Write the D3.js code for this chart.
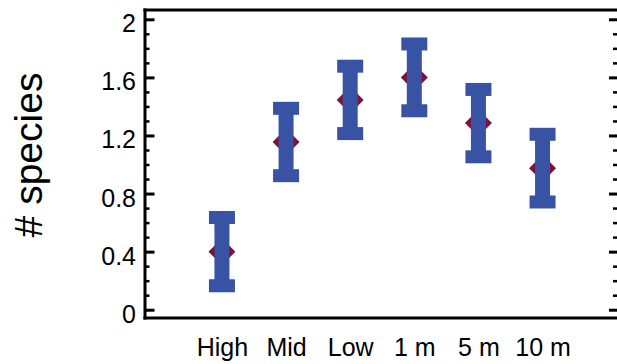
<!DOCTYPE html>
<html>
<head>
<meta charset="utf-8">
<script src="https://cdn.jsdelivr.net/npm/d3@7"></script>
<style>
  html, body { margin: 0; padding: 0; background: #fff; }
  svg { display: block; font-family: Arial, "Liberation Sans", sans-serif; }
</style>
</head>
<body>
<svg id="chart" width="617" height="364"></svg>
<script>
const categories = ["High", "Mid", "Low", "1 m", "5 m", "10 m"];
const means = [0.40, 1.155, 1.445, 1.60, 1.285, 0.975];
const errors = [0.235, 0.232, 0.232, 0.23, 0.232, 0.233];
const yMajorTicks = [0, 0.4, 0.8, 1.2, 1.6, 2];
const yTickLabels = ["0", "0.4", "0.8", "1.2", "1.6", "2"];
const yMinorTicks = [0.1,0.2,0.3,0.5,0.6,0.7,0.9,1.0,1.1,1.3,1.4,1.5,1.7,1.8,1.9];

(function () {
const svg = d3.select("#chart");
const pLeft = 145, pRight = 619.5, pTop = 10, pBottom = 318;

const x = d3.scalePoint().domain(categories).range([pLeft, pRight]).padding(1.2);
const y = d3.scaleLinear().domain([-0.057, 2.064]).range([pBottom, pTop]);

const blue = "#3953A4", maroon = "#7B1240";

// Left axis: major (with labels)
const gL = svg.append("g").attr("transform", `translate(${pLeft},0)`)
  .call(d3.axisLeft(y).tickValues(yMajorTicks).tickSize(-9.5).tickPadding(9)
    .tickFormat((d, i) => yTickLabels[i]));
gL.select(".domain").remove();
gL.selectAll(".tick line").attr("stroke", "#000").attr("stroke-width", 3);
gL.selectAll(".tick text").attr("font-size", 25).attr("dy", "0.5em")
  .attr("fill", "#000").attr("font-family", "Arial, 'Liberation Sans', sans-serif");

const gLm = svg.append("g").attr("transform", `translate(${pLeft},0)`)
  .call(d3.axisLeft(y).tickValues(yMinorTicks).tickSize(-4.5).tickFormat(""));
gLm.select(".domain").remove();
gLm.selectAll(".tick line").attr("stroke", "#000").attr("stroke-width", 2.5);

// Right axis: ticks pointing inward
const gR = svg.append("g").attr("transform", `translate(${pRight},0)`)
  .call(d3.axisRight(y).tickValues(yMajorTicks).tickSize(-10.5).tickFormat(""));
gR.select(".domain").remove();
gR.selectAll(".tick line").attr("stroke", "#000").attr("stroke-width", 3);
const gRm = svg.append("g").attr("transform", `translate(${pRight},0)`)
  .call(d3.axisRight(y).tickValues(yMinorTicks).tickSize(-6.5).tickFormat(""));
gRm.select(".domain").remove();
gRm.selectAll(".tick line").attr("stroke", "#000").attr("stroke-width", 2.5);

// Bottom axis labels
const gB = svg.append("g").attr("transform", `translate(0,${pBottom})`)
  .call(d3.axisBottom(x).tickSize(0).tickPadding(20));
gB.select(".domain").remove();
gB.selectAll(".tick text").attr("font-size", 25).attr("fill", "#000")
  .attr("font-family", "Arial, 'Liberation Sans', sans-serif");

// Frame
const frame = svg.append("g").attr("stroke", "#000").attr("stroke-width", 3).attr("fill", "none");
frame.append("line").attr("x1", pLeft).attr("x2", pLeft).attr("y1", pTop - 1.5).attr("y2", pBottom + 1.5);
frame.append("line").attr("x1", pLeft - 1.5).attr("x2", pRight + 2).attr("y1", pTop).attr("y2", pTop);
frame.append("line").attr("x1", pLeft - 1.5).attr("x2", pRight + 2).attr("y1", pBottom).attr("y2", pBottom);
frame.append("line").attr("x1", pRight).attr("x2", pRight).attr("y1", pTop).attr("y2", pBottom);

// Data
const data = categories.map((c, i) => ({ c, m: means[i], e: errors[i] }));
const pts = svg.append("g");
// diamonds (behind bars)
pts.selectAll("path.dia").data(data).join("path").attr("class", "dia")
  .attr("fill", maroon)
  .attr("d", d => {
    const cx = x(d.c), cy = y(d.m), r = 13.5;
    return `M${cx - r},${cy} L${cx},${cy - r} L${cx + r},${cy} L${cx},${cy + r} Z`;
  });
// vertical bars
pts.selectAll("rect.bar").data(data).join("rect").attr("class", "bar")
  .attr("fill", blue)
  .attr("x", d => x(d.c) - 7.5).attr("width", 15)
  .attr("y", d => y(d.m + d.e)).attr("height", d => y(d.m - d.e) - y(d.m + d.e));
// caps
["top", "bot"].forEach(k => {
  pts.selectAll("rect.cap" + k).data(data).join("rect").attr("class", "cap" + k)
    .attr("fill", blue)
    .attr("x", d => x(d.c) - 13).attr("width", 26)
    .attr("y", d => y(k === "top" ? d.m + d.e : d.m - d.e) - 6.5).attr("height", 13);
});

// Y axis title
svg.append("text")
  .attr("transform", "translate(42,155) rotate(-90)")
  .attr("text-anchor", "middle")
  .attr("font-size", 39)
  .attr("fill", "#000")
  .text("# species");
})();
</script>
</body>
</html>
